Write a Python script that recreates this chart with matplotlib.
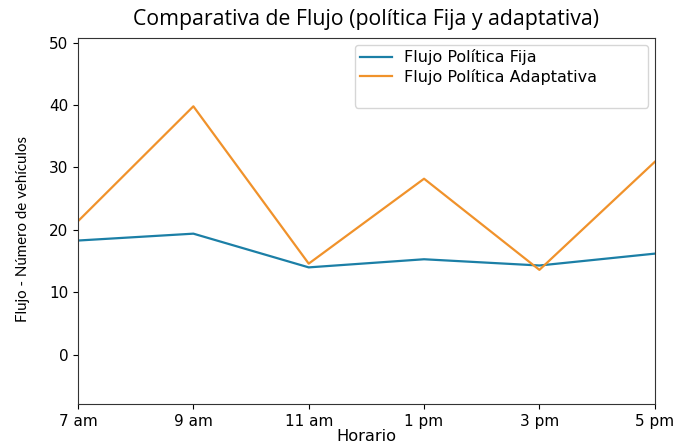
import matplotlib
matplotlib.use('Agg')
import matplotlib.pyplot as plt
from matplotlib.lines import Line2D

# Datos
horario = ['7 am', '9 am', '11 am', '1 pm', '3 pm', '5 pm']
flujo_fija = [18.3, 19.4, 14.0, 15.3, 14.3, 16.2]
flujo_adaptativa = [21.4, 39.8, 14.6, 28.2, 13.6, 30.9]
y_ticks = [0, 10, 20, 30, 40, 50]

fig = plt.figure(figsize=(6.75, 4.48), dpi=100)
ax = fig.add_axes([0.1156, 0.098, 0.8544, 0.818])

x = range(len(horario))
ax.plot(x, flujo_fija, color='#1b7fa6', lw=1.6, label='Flujo Política Fija')
ax.plot(x, flujo_adaptativa, color='#f0922b', lw=1.6, label='Flujo Política Adaptativa')

ax.set_xlim(0, len(horario) - 1)
ax.set_ylim(-7.9, 50.8)
ax.set_xticks(list(x))
ax.set_xticklabels(horario, fontsize=11)
ax.set_yticks(y_ticks)
ax.tick_params(axis='y', labelsize=11)
for s in ax.spines.values():
    s.set_color('#333333')

ax.set_xlabel('Horario', fontsize=11.7, labelpad=0)
ax.set_ylabel('Flujo - Número de vehículos', fontsize=10.8,
              family=['Lato', 'DejaVu Sans'])
ax.yaxis.set_label_coords(-0.083, 0.477)
ax.set_title('Comparativa de Flujo (política Fija y adaptativa)',
             fontsize=15.3, family=['Open Sans', 'DejaVu Sans'], pad=9)

# entrada en blanco para reproducir el hueco del cuadro de leyenda
handles, labels = ax.get_legend_handles_labels()
handles.append(Line2D([], [], color='none'))
labels.append(' ')
ax.legend(handles, labels, loc='upper left', fontsize=11.5,
          bbox_to_anchor=(0.480, 0.822, 0.508, 0.159), mode='expand',
          borderaxespad=0, borderpad=0.3, labelspacing=0.2, framealpha=0.8)

fig.savefig('out.png', dpi=100)
